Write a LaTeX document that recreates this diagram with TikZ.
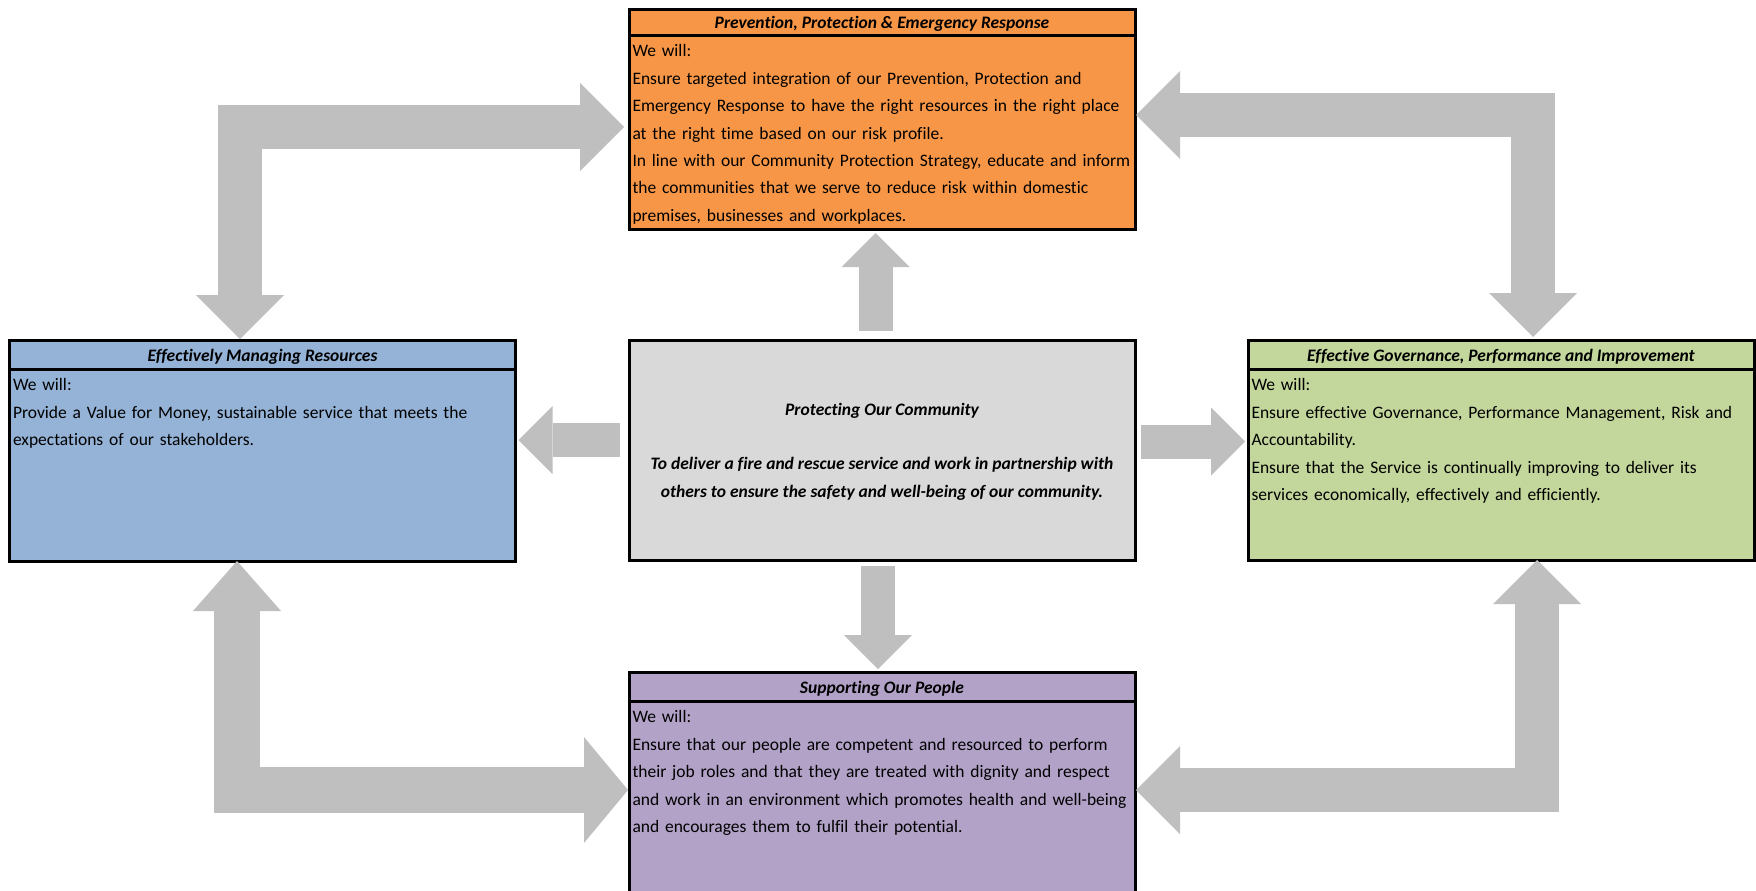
\documentclass[tikz,border=0pt]{standalone}
\usepackage{fontspec}
\setmainfont{Carlito}[Ligatures=NoCommon]
\usetikzlibrary{arrows.meta}
\definecolor{prevorange}{HTML}{F79646}
\definecolor{resblue}{HTML}{95B3D7}
\definecolor{govgreen}{HTML}{C3D69B}
\definecolor{peoplepurple}{HTML}{B2A2C7}
\definecolor{midgray}{HTML}{D9D9D9}
\definecolor{arrowgray}{HTML}{BFBFBF}
\begin{document}
\begin{tikzpicture}[x=0.5pt,y=-0.5pt,
		boxtitle/.style={draw,line width=1.5pt,outer sep=0pt,inner sep=0pt,anchor=north west,minimum width=253pt,minimum height=14.5pt,text height=7pt,text depth=0.5pt,font=\fontsize{8.75}{13.7}\selectfont\bfseries\itshape},
		boxbody/.style={draw,line width=1.5pt,outer sep=0pt,inner xsep=1.75pt,inner ysep=0pt,anchor=north west,text width=249.5pt,align=left,text height=10.9pt,font=\fontsize{8.75}{13.7}\selectfont},
		midbox/.style={draw,fill=midgray,line width=1.5pt,outer sep=0pt,anchor=north west,minimum width=253pt,minimum height=110pt,align=center,text depth=0pt,font=\fontsize{8.75}{14}\selectfont\bfseries\itshape},
		bigarrow/.style={draw=arrowgray,line width=22pt,>={Triangle[width=44pt,length=22pt,line width=0pt]},<->},
		smallarrow/.style={draw=arrowgray,line width=17pt,>={Triangle[width=34pt,length=17pt,line width=0pt]},->}]
	\useasboundingbox (0,0) rectangle (1756,890);
	\clip (0,0) rectangle (1756,890);
	\node [boxtitle,fill=prevorange,minimum height=12.75pt] (toptitle) at (629,9.5) {Prevention, Protection \& Emergency Response};
	\node [boxbody,fill=prevorange,text depth=86.1pt] (topbody) at (629,35) {We will:\\
		Ensure targeted integration of our Prevention, Protection and\\
		Emergency Response to have the right resources in the right place\\
		at the right time based on our risk profile.\\
		In line with our Community Protection Strategy, educate and inform\\
		the communities that we serve to reduce risk within domestic\\
		premises, businesses and workplaces.};
	\node [boxtitle,fill=resblue] (lfttitle) at (9.5,340) {Effectively Managing Resources};
	\node [boxbody,fill=resblue,text depth=85.1pt] (lftbody) at (9.5,369) {We will:\\
		Provide a Value for Money, sustainable service that meets the\\
		expectations of our stakeholders.};
	\node [midbox] (mid) at (629,340) {Protecting Our Community\\[13pt]
		To deliver a fire and rescue service and work in partnership with\\
		others to ensure the safety and well-being of our community.};
	\node [boxtitle,fill=govgreen] (rgttitle) at (1248,340) {Effective Governance, Performance and Improvement};
	\node [boxbody,fill=govgreen,text depth=84.6pt] (rgtbody) at (1248,369) {We will:\\
		Ensure effective Governance, Performance Management, Risk and\\
		Accountability.\\
		Ensure that the Service is continually improving to deliver its\\
		services economically, effectively and efficiently.};
	\node [boxtitle,fill=peoplepurple] (bottitle) at (629,672) {Supporting Our People};
	\node [boxbody,fill=peoplepurple,text depth=118.6pt] (botbody) at (629,701) {We will:\\
		Ensure that our people are competent and resourced to perform\\
		their job roles and that they are treated with dignity and respect\\
		and work in an environment which promotes health and well-being\\
		and encourages them to fulfil their potential.};
	\draw [smallarrow] ([xshift=-3.25pt,yshift=4.5pt]mid.north) -- ([xshift=-3.25pt,yshift=-2pt]topbody.south);
	\draw [smallarrow] ([xshift=-2pt,yshift=-3pt]mid.south) -- ([xshift=-2pt,yshift=1.5pt]bottitle.north);
	\draw [smallarrow] ([xshift=-4.5pt,yshift=5pt]mid.west) -- ([xshift=1.5pt,yshift=12.5pt]lftbody.east);
	\draw [smallarrow] ([xshift=3pt,yshift=4.25pt]mid.east) -- ([xshift=-1.5pt,yshift=11.5pt]rgtbody.west);
	\draw [bigarrow] ([xshift=115.25pt,yshift=0.5pt]lfttitle.north west) |- ([xshift=-2.5pt,yshift=2.5pt]topbody.west);
	\draw [bigarrow] ([xshift=0.5pt,yshift=8.5pt]topbody.east) -| ([xshift=142.5pt,yshift=1.5pt]rgttitle.north west);
	\draw [bigarrow,line width=23pt,arrows={Triangle[width=44pt,length=25pt,line width=0pt]-Triangle[width=53pt,length=22pt,line width=0pt]}] ([xshift=113.75pt]lftbody.south west) |- ([xshift=-0.5pt,yshift=-44.5pt]botbody.north west);
	\draw [bigarrow] ([xshift=0.5pt,yshift=-44.5pt]botbody.north east) -| ([xshift=144.5pt]rgtbody.south west);
\end{tikzpicture}
\end{document}
